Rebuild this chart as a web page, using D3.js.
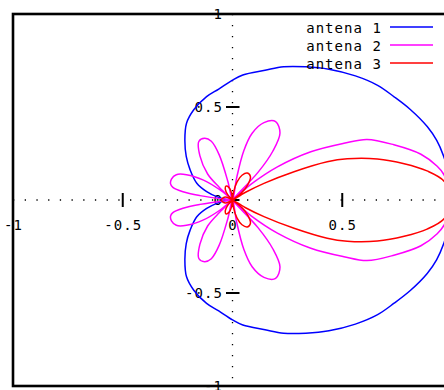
<!DOCTYPE html>
<html>
<head>
<meta charset="utf-8">
<script src="https://cdn.jsdelivr.net/npm/d3@7"></script>
<style>
  body { margin: 0; background: #fff; }
  svg { display: block; }
  text { font-family: "DejaVu Sans Mono", "Liberation Mono", monospace; font-size: 14px; letter-spacing: 1.05px; fill: #000; }
</style>
</head>
<body>
<svg id="chart" width="444" height="390"></svg>
<script>
// Radiation patterns (normalised gain vs. azimuth in degrees).
// Each pattern is symmetric about 0°, so only 0..180° is listed.
const seriesNames  = ["antena 1", "antena 2", "antena 3"];
const seriesColors = ["#0000ff", "#ff00ff", "#ff0000"];

const antena1Angles = [0, 7, 14, 19, 24, 31, 37, 43, 50, 58, 65, 72, 78, 86, 90, 96, 102, 110, 117, 124, 132, 140, 151, 159, 166, 173, 180];
const antena1Gain   = [1.0, 0.997, 0.99, 0.984, 0.971, 0.945, 0.922, 0.904, 0.871, 0.829, 0.79, 0.753, 0.713, 0.674, 0.645, 0.60, 0.568, 0.516, 0.462, 0.388, 0.315, 0.252, 0.186, 0.126, 0.074, 0.035, 0];

const antena2Angles = [0, 8, 11, 16, 22, 28, 31, 36, 41, 45, 49, 52, 55, 59, 65, 71, 76, 79, 81, 90, 102, 104, 107, 111, 116, 122, 129, 131.5, 133.5, 136.5, 141, 147, 152, 158, 163, 166, 169, 171, 173, 180];
const antena2Gain   = [1.0, 0.973, 0.95, 0.893, 0.793, 0.694, 0.592, 0.441, 0.271, 0.12, 0, 0.19, 0.32, 0.42, 0.465, 0.44, 0.37, 0.27, 0.12, 0, 0.10, 0.25, 0.33, 0.355, 0.35, 0.28, 0.18, 0.09, 0, 0.08, 0.17, 0.25, 0.29, 0.30, 0.295, 0.28, 0.23, 0.15, 0.03, 0];

const antena3Angles = [0, 6, 10, 14, 18.5, 23, 25.5, 28.5, 32, 35, 39, 44, 50, 57, 65, 72, 78, 84, 90, 97, 104, 112, 120, 127, 133, 150, 165, 180];
const antena3Gain   = [1.0, 0.969, 0.90, 0.806, 0.696, 0.568, 0.478, 0.319, 0.169, 0.07, 0, 0.06, 0.11, 0.15, 0.16, 0.14, 0.10, 0.04, 0, 0.04, 0.07, 0.08, 0.065, 0.035, 0, 0.03, 0.045, 0.05];

const xTickValues = [-1, -0.5, 0, 0.5, 1];
const xTickLabels = ["-1", "-0.5", "0", "0.5", "1"];
const yTickValues = [-1, -0.5, 0, 0.5, 1];
const yTickLabels = ["-1", "-0.5", "0", "0.5", "1"];

const series = [
  { name: seriesNames[0], color: seriesColors[0], angles: antena1Angles, gain: antena1Gain },
  { name: seriesNames[1], color: seriesColors[1], angles: antena2Angles, gain: antena2Gain },
  { name: seriesNames[2], color: seriesColors[2], angles: antena3Angles, gain: antena3Gain }
];

const width = 444;
const svg = d3.select("#chart");
const plot = { left: 13, right: 452, top: 14, bottom: 386 };

const x = d3.scaleLinear().domain([-1, 1]).range([plot.left, plot.right]);
const y = d3.scaleLinear().domain([-1, 1]).range([plot.bottom, plot.top]);

svg.append("defs").append("clipPath").attr("id", "plotclip")
  .append("rect")
  .attr("x", plot.left).attr("y", plot.top)
  .attr("width", plot.right - plot.left).attr("height", plot.bottom - plot.top);

// Dotted zero axes
svg.append("line")
  .attr("x1", plot.left).attr("x2", plot.right)
  .attr("y1", y(0)).attr("y2", y(0))
  .attr("stroke", "#000").attr("stroke-width", 1.3)
  .attr("stroke-dasharray", "1.3 10.4");
svg.append("line")
  .attr("x1", x(0)).attr("x2", x(0))
  .attr("y1", plot.top).attr("y2", plot.bottom)
  .attr("stroke", "#000").attr("stroke-width", 1.3)
  .attr("stroke-dasharray", "1.3 9.7");

// Tick marks sit on the zero axes
const ticks = svg.append("g");
ticks.selectAll(".xt").data(xTickValues).join("line")
  .attr("x1", d => x(d)).attr("x2", d => x(d))
  .attr("y1", y(0) - 7).attr("y2", y(0) + 7)
  .attr("stroke", "#000").attr("stroke-width", 2);
ticks.selectAll(".yt").data(yTickValues).join("line")
  .attr("x1", x(0) - 6.5).attr("x2", x(0) + 7)
  .attr("y1", d => y(d)).attr("y2", d => y(d))
  .attr("stroke", "#000").attr("stroke-width", 2);

// x labels that fall inside the canvas (the +1 label lies past the right edge)
const xLabelData = xTickValues.map((v, i) => ({ v, label: xTickLabels[i] }))
  .filter(d => x(d.v) + 6 < width);
ticks.selectAll(".xl").data(xLabelData).join("text")
  .attr("x", d => x(d.v) + 0.5).attr("y", y(0) + 30)
  .attr("text-anchor", "middle")
  .text(d => d.label);
ticks.selectAll(".yl").data(yTickValues).join("text")
  .attr("x", x(0) - 9.5).attr("y", d => y(d) + 5)
  .attr("text-anchor", "end")
  .text((d, i) => yTickLabels[i]);

// Polar curves: the listed half plus its mirror image
function polarPoints(angles, gain) {
  const pts = angles.map((a, i) => [a, gain[i]]);
  for (let i = angles.length - 2; i > 0; i--) pts.push([360 - angles[i], gain[i]]);
  return pts.map(([a, r]) => {
    const t = a * Math.PI / 180;
    return [r * Math.cos(t), r * Math.sin(t)];
  });
}

const line = d3.line()
  .x(d => x(d[0])).y(d => y(d[1]))
  .curve(d3.curveCatmullRomClosed.alpha(0.5));

svg.append("g").attr("clip-path", "url(#plotclip)")
  .selectAll("path").data(series).join("path")
  .attr("d", s => line(polarPoints(s.angles, s.gain)))
  .attr("fill", "none")
  .attr("stroke", s => s.color)
  .attr("stroke-width", 1.5)
  .attr("stroke-linejoin", "round");

// Legend
const legend = svg.append("g").selectAll("g").data(series).join("g")
  .attr("transform", (d, i) => `translate(0, ${27 + i * 18})`);
legend.append("text")
  .attr("x", 382).attr("y", 5.5)
  .attr("text-anchor", "end")
  .text(d => d.name);
legend.append("line")
  .attr("x1", 390).attr("x2", 433)
  .attr("stroke", d => d.color).attr("stroke-width", 1.5);

// Border
svg.append("rect")
  .attr("x", plot.left).attr("y", plot.top)
  .attr("width", plot.right - plot.left).attr("height", plot.bottom - plot.top)
  .attr("fill", "none").attr("stroke", "#000").attr("stroke-width", 2.6);
</script>
</body>
</html>
